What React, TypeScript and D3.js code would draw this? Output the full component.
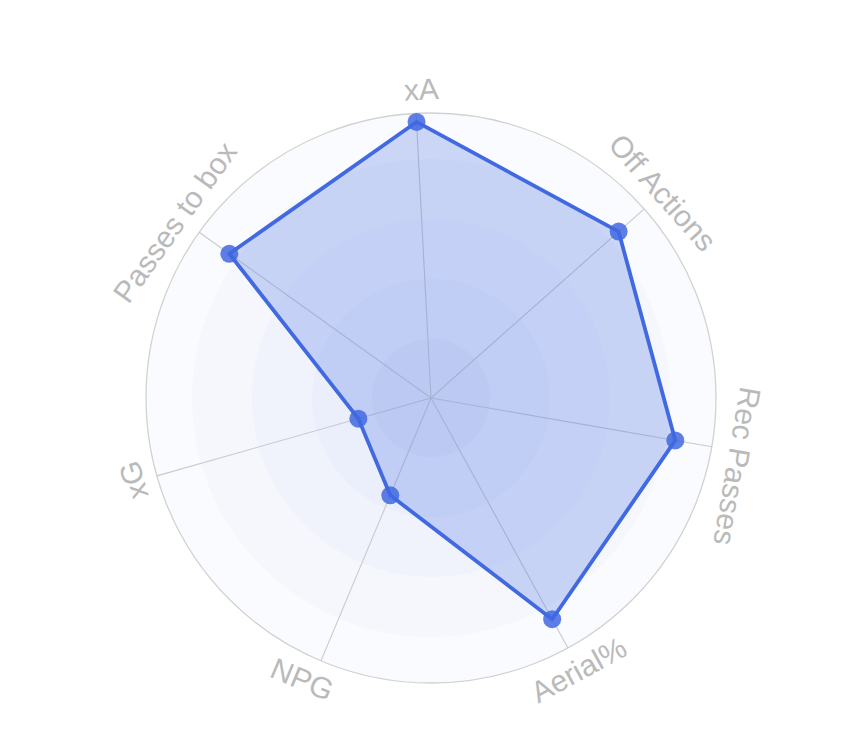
import React from "react";
import * as d3 from "d3";

const categories: string[] = ["xA", "Off Actions", "Rec Passes", "Aerial%", "NPG", "xG", "Passes to box"];
const values: number[] = [97, 88, 87, 88.5, 37, 26.5, 87];
const bandLevels: number[] = [20, 40, 60, 80, 100];

const W = 844;
const H = 730;
const CX = 431;
const CY = 398;
const R = 285;
const START_DEG = -3;
const COLOR = "#4169e1";

export default function App() {
  const rScale = d3.scaleLinear().domain([0, 100]).range([0, R]);
  const bandRadius = d3.scaleLinear().domain([0, 20, 40, 60, 80, 100]).range([0, 59, 119, 179, 239, R]);
  const n = categories.length;
  const angleDeg = (i: number) => START_DEG + (360 / n) * i;
  const angleRad = (i: number) => (angleDeg(i) * Math.PI) / 180;

  // small label placement nudges (degrees / px) to match the reference layout
  const labelNudgeDeg = [1.2, 0, 2.7, 0.2, 1.9, 0.4, -1.1];
  const labelNudgeR = [0, 1, 5, 0, 0, 0, 2];

  const pts = values.map((v, i) => {
    const a = angleRad(i);
    const r = rScale(v);
    return [CX + r * Math.sin(a), CY - r * Math.cos(a)] as [number, number];
  });

  const radial = d3
    .lineRadial<number>()
    .angle((_, i) => angleRad(i))
    .radius((d) => rScale(d))
    .curve(d3.curveLinearClosed);
  const pathD = radial(values) || "";

  const labelR = 309;

  return (
    <svg
      width={W}
      height={H}
      style={{ position: "absolute", left: 0, top: 0, background: "#fff" }}
      fontFamily="'Liberation Sans', Arial, Helvetica, sans-serif"
    >
      <g>
        {bandLevels.map((lv) => (
          <circle key={lv} cx={CX} cy={CY} r={bandRadius(lv)} fill="rgb(70,105,210)" fillOpacity={0.028} />
        ))}
        <circle cx={CX} cy={CY} r={R} fill="none" stroke="#d2d2d2" strokeWidth={1.3} />
        {categories.map((c, i) => {
          const a = angleRad(i);
          return (
            <line
              key={c}
              x1={CX}
              y1={CY}
              x2={CX + R * Math.sin(a)}
              y2={CY - R * Math.cos(a)}
              stroke="#c8cad0"
              strokeWidth={1.1}
            />
          );
        })}
      </g>
      <g transform={`translate(${CX},${CY})`}>
        <path d={pathD} fill={COLOR} fillOpacity={0.25} stroke={COLOR} strokeWidth={3.8} strokeLinejoin="round" />
      </g>
      <g>
        {pts.map((p, i) => (
          <circle key={i} cx={p[0]} cy={p[1]} r={9} fill={COLOR} fillOpacity={0.85} />
        ))}
      </g>
      <g>
        {categories.map((c, i) => {
          const deg = angleDeg(i) + labelNudgeDeg[i];
          const a = (deg * Math.PI) / 180;
          const lr = labelR + labelNudgeR[i];
          const x = CX + lr * Math.sin(a);
          const y = CY - lr * Math.cos(a);
          let rot = angleDeg(i);
          while (rot > 180) rot -= 360;
          while (rot <= -180) rot += 360;
          if (Math.abs(rot) > 120) rot = rot > 0 ? rot - 180 : rot + 180;
          return (
            <text
              key={c}
              transform={`translate(${x},${y}) rotate(${rot})`}
              textAnchor="middle"
              dy="0.36em"
              fontSize={30}
              fill="#bababa"
            >
              {c}
            </text>
          );
        })}
      </g>
    </svg>
  );
}
